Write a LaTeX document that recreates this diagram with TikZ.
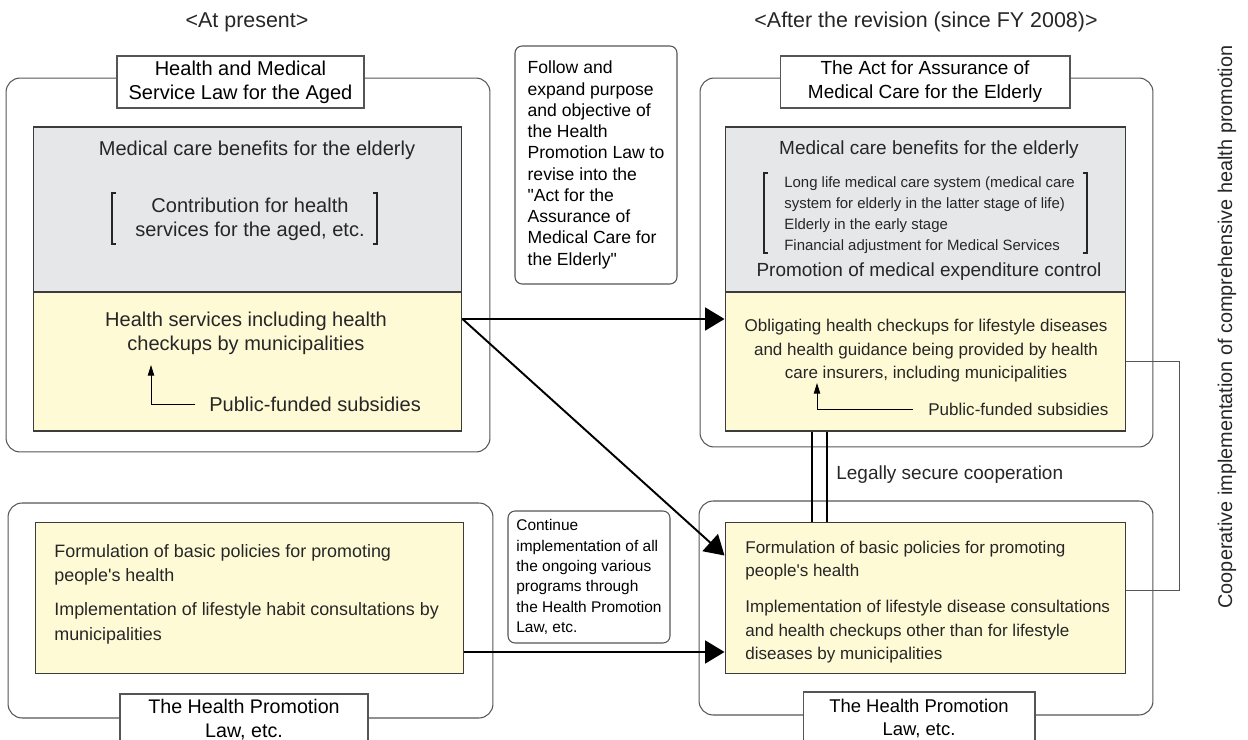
\documentclass[tikz,border=0pt]{standalone}
\usepackage{fontspec}
\setmainfont{Liberation Sans}
\usetikzlibrary{arrows.meta}
\definecolor{benefitgray}{RGB}{230,231,232}
\definecolor{serviceyellow}{RGB}{255,250,214}
\definecolor{framegray}{RGB}{85,85,85}
\definecolor{edgegray}{RGB}{60,60,60}
\tikzset{
  law/.style={draw=framegray,rounded corners=8pt,line width=0.6pt},
  lawtitle/.style={draw=framegray,fill=white,line width=0.6pt,inner sep=0pt,align=center},
  benefit/.style={draw=edgegray,fill=benefitgray,line width=0.6pt},
  service/.style={draw=edgegray,fill=serviceyellow,line width=0.6pt},
  remark/.style={draw=framegray,rounded corners=4pt,line width=0.6pt,inner sep=0pt,align=left},
  txt/.style={inner sep=0pt,align=center,text=black!85},
  ltxt/.style={inner sep=0pt,align=left,text=black!85},
  brk/.style={line width=1.2pt,draw=black!85},
  flow/.style={-{Triangle[length=11pt,width=13pt]},line width=1.1pt},
  fund/.style={-{Triangle[length=6pt,width=3.6pt]},line width=0.5pt},
  coop/.style={line width=0.9pt},
  link/.style={line width=0.5pt,draw=framegray},
  headfont/.style={font=\fontsize{12.2}{14}\selectfont},
  bigfont/.style={font=\fontsize{11.4}{13.7}\selectfont},
  midfont/.style={font=\fontsize{10.8}{13.7}\selectfont},
  svcfont/.style={font=\fontsize{9.7}{13.4}\selectfont},
  smallfont/.style={font=\fontsize{8.5}{12}\selectfont},
  notefont/.style={font=\fontsize{10}{12.1}\selectfont},
  contfont/.style={font=\fontsize{8.8}{11.6}\selectfont},
  hpfont/.style={font=\fontsize{10.2}{13.7}\selectfont},
}
\begin{document}
\begin{tikzpicture}[x=0.02cm,y=-0.02cm]
\useasboundingbox (0,0) rectangle (1248,740);
%
\node[txt,headfont](now) at (247,22) {<At present>};
\node[txt,headfont](after) at (926,22) {<After the revision (since FY 2008)>};
%
\node[law,minimum width=9.68cm,minimum height=7.48cm](oldlaw) at (248,265) {};
\node[benefit,minimum width=8.58cm,minimum height=3.30cm](oldben) at (247.5,209.5) {};
\node[service,minimum width=8.58cm,minimum height=2.78cm](oldsvc) at (247.5,361.5) {};
\node[lawtitle,bigfont,minimum width=4.94cm,minimum height=1.04cm](oldtitle) at (240.5,82) {Health and Medical\\Service Law for the Aged};
%
\node[txt,bigfont](oldbentext) at (257,150) {Medical care benefits for the elderly};
\node[txt,bigfont](contrib) at (250,219) {Contribution for health\\services for the aged, etc.};
\draw[brk] (116,193) -- (112,193) -- (112,244) -- (116,244);
\draw[brk] (373,193) -- (377,193) -- (377,244) -- (373,244);
%
\node[txt,bigfont](oldsvctext) at (246,333) {Health services including health\\checkups by municipalities};
\node[txt,bigfont,anchor=west](oldfund) at (209,404) {Public-funded subsidies};
\coordinate(oldtip) at (151,365);
\draw[fund] ([xshift=-0.28cm]oldfund.west) -| (oldtip);
%
\node[law,minimum width=9.06cm,minimum height=7.38cm](newlaw) at (926.5,262.5) {};
\node[benefit,minimum width=8.02cm,minimum height=3.30cm](newben) at (925.5,209.5) {};
\node[service,minimum width=8.02cm,minimum height=2.78cm](newsvc) at (925.5,361.5) {};
\node[lawtitle,midfont,minimum width=5.80cm,minimum height=1.04cm](newtitle) at (925,82) {The Act for Assurance of\\Medical Care for the Elderly};
%
\node[txt,midfont](newbentext) at (929,150) {Medical care benefits for the elderly};
\node[ltxt,smallfont,anchor=west](system) at (784,215) {Long life medical care system (medical care\\system for elderly in the latter stage of life)\\Elderly in the early stage\\Financial adjustment for Medical Services};
\draw[brk] (768,173) -- (764,173) -- (764,253) -- (768,253);
\draw[brk] (1083,173) -- (1087,173) -- (1087,253) -- (1083,253);
\node[txt,midfont](control) at (929,272) {Promotion of medical expenditure control};
%
\node[txt,svcfont](newsvctext) at (926,351) {Obligating health checkups for lifestyle diseases\\and health guidance being provided by health\\care insurers, including municipalities};
\node[txt,svcfont,anchor=west](newfund) at (928,409) {Public-funded subsidies};
\coordinate(newtip) at (817,383);
\draw[fund] ([xshift=-0.30cm]newfund.west) -| (newtip);
%
\node[remark,notefont,minimum width=3.24cm,minimum height=4.76cm](follow) at (596,165) {Follow and\\expand purpose\\and objective of\\the Health\\Promotion Law to\\revise into the\\\textquotedbl Act for the\\Assurance of\\Medical Care for\\the Elderly\textquotedbl};
%
\node[law,minimum width=9.70cm,minimum height=4.30cm](oldhpl) at (250.5,610.5) {};
\node[service,minimum width=8.58cm,minimum height=3.02cm](oldhp) at (249.5,598) {};
\node[lawtitle,font=\fontsize{11.2}{13.7}\selectfont,minimum width=4.96cm,minimum height=1.04cm](oldhptitle) at (244,720) {The Health Promotion\\Law, etc.};
\node[ltxt,hpfont,anchor=west](oldhptext) at (54,594) {Formulation of basic policies for promoting\\people\textquotesingle s health\\[6pt]Implementation of lifestyle habit consultations by\\municipalities};
%
\node[remark,contfont,minimum width=3.24cm,minimum height=2.64cm](continue) at (589,577) {Continue\\implementation of all\\the ongoing various\\programs through\\the Health Promotion\\Law, etc.};
%
\node[law,minimum width=9.08cm,minimum height=4.28cm](newhpl) at (926,608) {};
\node[service,minimum width=8.02cm,minimum height=3.02cm](newhp) at (925.5,598) {};
\node[lawtitle,font=\fontsize{10.5}{13.1}\selectfont,minimum width=4.64cm,minimum height=1.04cm](newhptitle) at (919,718) {The Health Promotion\\Law, etc.};
\node[ltxt,svcfont,anchor=west](newhptext) at (745,602) {Formulation of basic policies for promoting\\people\textquotesingle s health\\[7pt]Implementation of lifestyle disease consultations\\and health checkups other than for lifestyle\\diseases by municipalities};
%
\draw[coop] ([xshift=-2.27cm]newsvc.south) -- ([xshift=-2.27cm]newhp.north);
\draw[coop] ([xshift=-1.97cm]newsvc.south) -- ([xshift=-1.97cm]newhp.north);
\node[txt,midfont,anchor=west](legal) at (836,475) {Legally secure cooperation};
%
\draw[link] (newsvc.east) -- ++(53,0) |- ([yshift=0.16cm]newhp.east);
\node[txt,font=\fontsize{11.3}{13}\selectfont,rotate=90](comprehensive) at (1227,327) {Cooperative implementation of comprehensive health promotion};
%
\draw[flow] ([yshift=0.85cm]oldsvc.east) -- ([yshift=0.85cm]newsvc.west);
\draw[flow] ([yshift=0.85cm]oldsvc.east) -- ([yshift=0.85cm]newhp.west);
\draw[flow] ([yshift=-1.08cm]oldhp.east) -- ([yshift=-1.08cm]newhp.west);
\end{tikzpicture}
\end{document}
